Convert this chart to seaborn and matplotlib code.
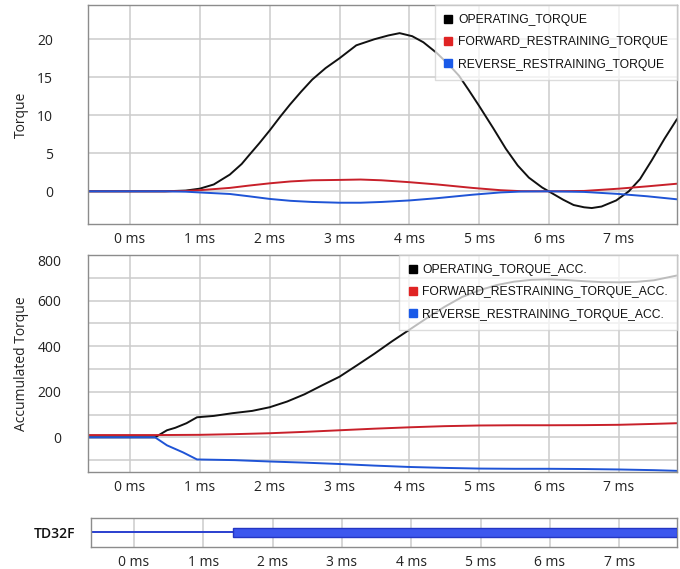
import numpy as np
import pandas as pd
import seaborn as sns
import matplotlib.pyplot as plt
from matplotlib.lines import Line2D

# ---- torque traces (ms, torque) ----
op_t = [-0.6, 0.0, 0.5, 0.8, 1.0, 1.2, 1.43, 1.6, 1.71, 1.85, 2.0, 2.15, 2.29, 2.45,
        2.61, 2.8, 3.0, 3.24, 3.5, 3.7, 3.86, 4.04, 4.2, 4.39, 4.57, 4.71, 4.85,
        5.0, 5.2, 5.38, 5.55, 5.71, 5.9, 6.05, 6.2, 6.35, 6.5, 6.61, 6.75, 6.96,
        7.14, 7.3, 7.47, 7.65, 7.83]
op_v = [0.0, 0.0, 0.0, 0.1, 0.35, 0.9, 2.2, 3.6, 4.8, 6.3, 8.0, 9.8, 11.4, 13.1,
        14.7, 16.2, 17.5, 19.2, 20.0, 20.5, 20.8, 20.4, 19.6, 18.2, 16.6, 15.2, 13.3,
        11.2, 8.3, 5.6, 3.4, 1.8, 0.5, -0.3, -1.1, -1.8, -2.1, -2.2, -2.0, -1.2,
        0.0, 1.6, 4.1, 6.9, 9.5]

fw_t = [-0.6, 0.5, 0.8, 1.0, 1.43, 1.7, 2.0, 2.3, 2.61, 3.0, 3.3, 3.6, 4.0, 4.4,
        4.9, 5.3, 5.6, 6.0, 6.5, 7.0, 7.4, 7.83]
fw_v = [0.0, 0.0, 0.05, 0.15, 0.45, 0.75, 1.05, 1.3, 1.45, 1.5, 1.55, 1.45, 1.2, 0.9,
        0.45, 0.15, 0.02, 0.0, 0.05, 0.35, 0.65, 1.0]

rv_t = [-0.6, 0.5, 0.8, 1.0, 1.43, 1.7, 2.0, 2.3, 2.61, 3.0, 3.3, 3.6, 4.0, 4.4,
        4.9, 5.3, 5.6, 6.0, 6.5, 7.0, 7.4, 7.83]
rv_v = [0.0, 0.0, -0.05, -0.15, -0.35, -0.65, -1.0, -1.25, -1.4, -1.5, -1.5, -1.4, -1.2, -0.9,
        -0.45, -0.15, -0.03, 0.0, -0.08, -0.35, -0.65, -1.05]

# ---- accumulated torque traces ----
opa_t = [-0.6, 0.36, 0.53, 0.65, 0.81, 0.96, 1.2, 1.47, 1.75, 2.0, 2.25, 2.5, 2.75,
         3.0, 3.25, 3.5, 3.75, 4.0, 4.25, 4.5, 4.75, 5.0, 5.25, 5.5, 5.75, 6.0,
         6.25, 6.5, 6.75, 7.0, 7.25, 7.5, 7.83]
opa_v = [0, 0, 31, 42, 62, 88, 94, 106, 116, 132, 157, 189, 228, 266, 316, 367, 421,
         472, 523, 572, 615, 645, 668, 683, 691, 693, 690, 685, 681, 680, 682, 689, 710]

fwa_t = [-0.6, 0.4, 1.0, 1.5, 2.0, 2.5, 3.0, 3.5, 4.0, 4.5, 5.0, 5.5, 6.0, 6.5, 7.0, 7.5, 7.83]
fwa_v = [10, 10, 11, 14, 18, 24, 31, 38, 44, 49, 52, 53, 53, 53.5, 55, 59, 62]

rva_t = [-0.6, 0.36, 0.53, 0.76, 0.96, 1.5, 2.0, 2.5, 3.0, 3.5, 4.0, 4.5, 5.0, 5.5,
         6.0, 6.5, 7.0, 7.5, 7.83]
rva_v = [0, 0, -35, -66, -97, -100, -106, -111, -117, -124, -130, -134, -137, -138,
         -138, -139, -141, -144, -147]

# ---- TD32F digital channel ----
td32f_on_ms = 1.43
time_end_ms = 7.835

series_names = ["OPERATING_TORQUE", "FORWARD_RESTRAINING_TORQUE", "REVERSE_RESTRAINING_TORQUE"]
acc_names = ["OPERATING_TORQUE_ACC.", "FORWARD_RESTRAINING_TORQUE_ACC.", "REVERSE_RESTRAINING_TORQUE_ACC."]
line_colors = ["#111111", "#c8202a", "#1f54d6"]
marker_colors = ["#000000", "#e02424", "#1a5ae8"]
ms_ticks = [0, 1, 2, 3, 4, 5, 6, 7]

sns.set_style("white")
plt.rcParams["font.family"] = ["Open Sans", "DejaVu Sans"]

GRID = "#cccccc"
FRAME = "#8c8c8c"
TEXT = "#222222"


def long_frame(pairs, names):
    parts = []
    for (t, v), n in zip(pairs, names):
        parts.append(pd.DataFrame({"t": t, "v": v, "series": n}))
    return pd.concat(parts, ignore_index=True)


def style_axes(ax):
    for s in ax.spines.values():
        s.set_color(FRAME)
        s.set_linewidth(1.0)
    ax.set_xticks(ms_ticks)
    ax.set_xticklabels([f"{m} ms" for m in ms_ticks])
    ax.tick_params(axis="both", length=0, labelsize=10, colors=TEXT)
    ax.tick_params(axis="x", pad=6)
    ax.grid(True, which="both", color=GRID, linewidth=1.1)
    ax.set_axisbelow(True)
    ax.set_xlabel("")


def add_legend(ax, labels):
    handles = [Line2D([], [], linestyle="none", marker="s", markersize=5.5,
                      markerfacecolor=c, markeredgecolor=c) for c in marker_colors]
    leg = ax.legend(handles, labels, loc="upper right", bbox_to_anchor=(1.0, 1.0),
                    borderaxespad=0.0, frameon=True, fancybox=False, framealpha=0.72,
                    edgecolor="#cfcfcf", handlelength=0.7, handletextpad=0.45,
                    labelspacing=0.85, borderpad=0.75,
                    prop={"family": "Liberation Sans", "size": 8.7})
    for txt in leg.get_texts():
        txt.set_color("#111111")
    return leg


fig = plt.figure(figsize=(6.8, 5.69), dpi=100)
ax1 = fig.add_axes([0.1294, 0.6063, 0.8662, 0.3849])
ax2 = fig.add_axes([0.1294, 0.1705, 0.8662, 0.3814])
ax3 = fig.add_axes([0.1338, 0.0387, 0.8618, 0.0510])

# ---- Torque panel ----
df_torque = long_frame([(op_t, op_v), (fw_t, fw_v), (rv_t, rv_v)], series_names)
sns.lineplot(data=df_torque, x="t", y="v", hue="series", hue_order=series_names,
             palette=dict(zip(series_names, line_colors)), sort=False,
             linewidth=1.4, legend=False, ax=ax1)
ax1.set_xlim(-0.6, 7.83)
ax1.set_ylim(-4.3, 24.5)
ax1.set_yticks([0, 5, 10, 15, 20])
style_axes(ax1)
ax1.tick_params(axis="y", pad=25)
ax1.set_ylabel("Torque", fontsize=10, color=TEXT)
ax1.yaxis.set_label_coords(-0.100, 0.5)
add_legend(ax1, series_names)

# ---- Accumulated torque panel ----
df_acc = long_frame([(opa_t, opa_v), (fwa_t, fwa_v), (rva_t, rva_v)], acc_names)
sns.lineplot(data=df_acc, x="t", y="v", hue="series", hue_order=acc_names,
             palette=dict(zip(acc_names, line_colors)), sort=False,
             linewidth=1.4, legend=False, ax=ax2)
ax2.set_xlim(-0.6, 7.83)
ax2.set_ylim(-152, 800)
ax2.set_yticks([0, 200, 400, 600, 800])
ax2.set_yticks([-100, 100, 300, 500, 700], minor=True)
style_axes(ax2)
ax2.tick_params(axis="y", which="both", pad=19)
ax2.tick_params(axis="y", which="minor", length=0)
ax2.set_ylabel("Accumulated Torque", fontsize=10, color=TEXT)
ax2.yaxis.set_label_coords(-0.100, 0.5)
for lbl in ax2.get_yticklabels():
    if lbl.get_text() == "800":
        lbl.set_va("top")
add_legend(ax2, acc_names)

# ---- TD32F state panel ----
ax3.set_xlim(-0.62, 7.835)
ax3.set_ylim(0, 1)
sns.lineplot(x=[-0.62, td32f_on_ms], y=[0.5, 0.5], color="#2a3fcf", linewidth=1.4, ax=ax3)
ax3.barh([0.5], [time_end_ms - td32f_on_ms], left=[td32f_on_ms], height=0.28,
         color="#3c57ee", edgecolor="#2436c2", linewidth=1.0, zorder=3)
style_axes(ax3)
ax3.grid(False, axis="y")
ax3.set_yticks([0.5])
ax3.set_yticklabels(["TD32F"], fontweight="semibold", color="#111111")
ax3.tick_params(axis="y", pad=11)
ax3.set_ylabel("")

fig.savefig("out.png", dpi=100, facecolor="white")
